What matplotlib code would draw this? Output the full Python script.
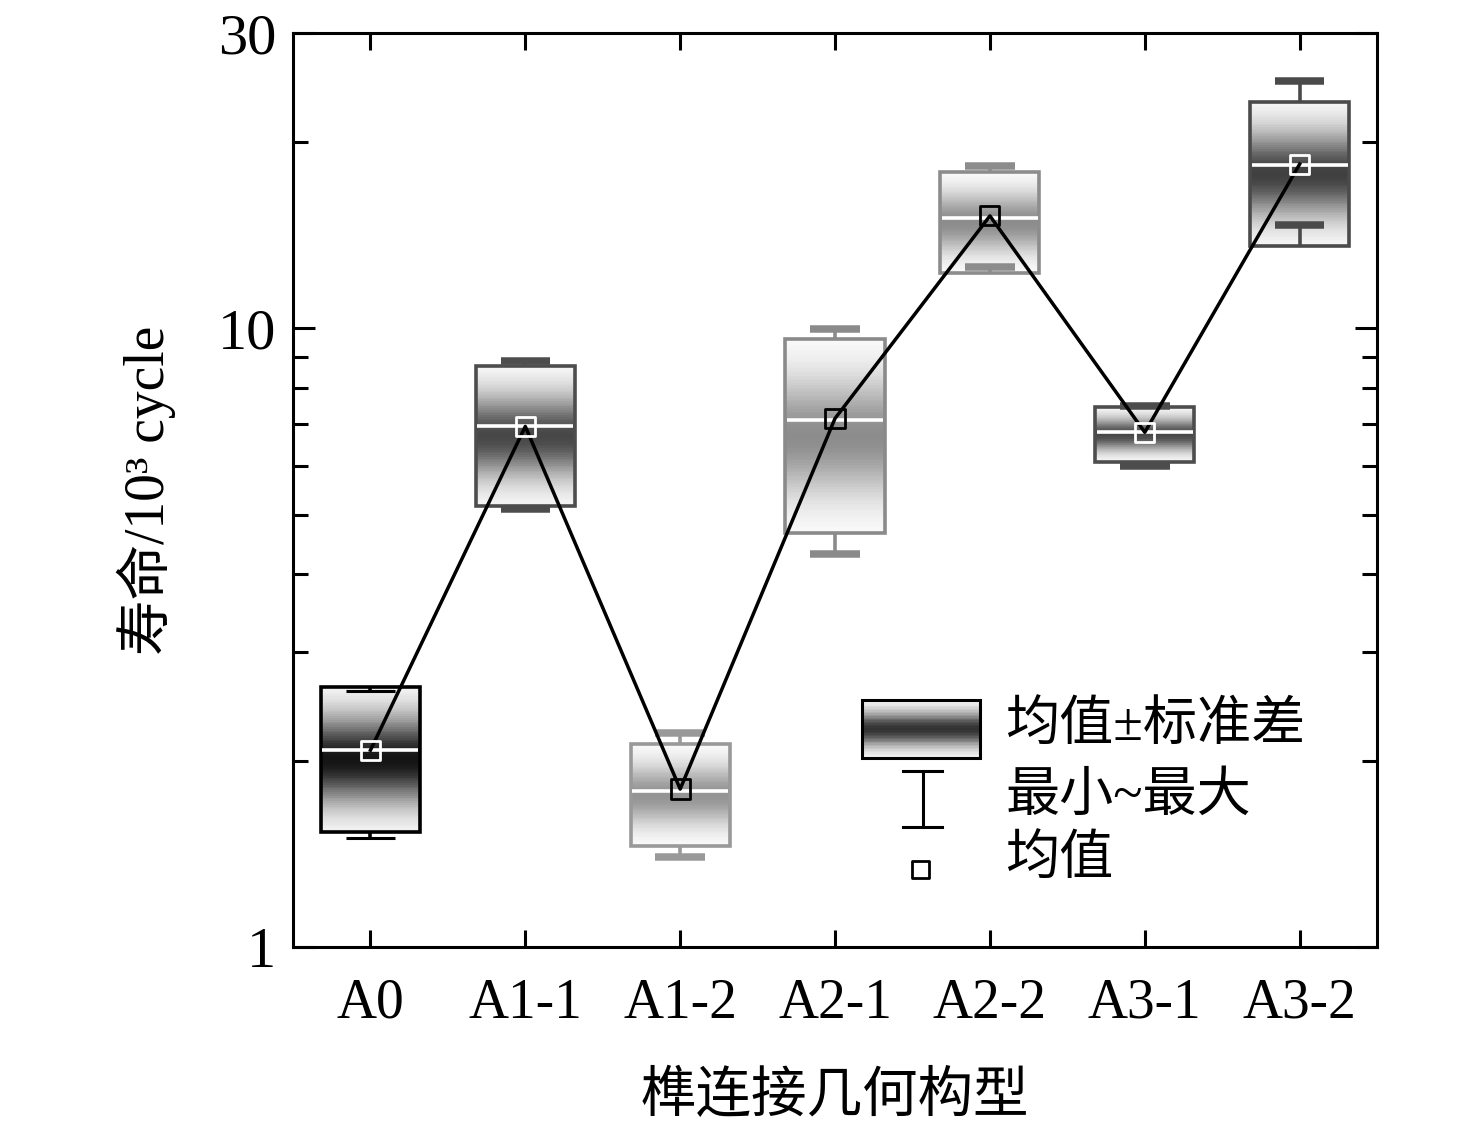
import numpy as np
import matplotlib
matplotlib.use("Agg")
import matplotlib.pyplot as plt
from matplotlib.patches import Rectangle

plt.rcParams['font.family'] = ['Liberation Serif', 'Noto Sans CJK SC']
plt.rcParams['font.size'] = 38

# data (life in 10^3 cycles)
groups = ['A0', 'A1-1', 'A1-2', 'A2-1', 'A2-2', 'A3-1', 'A3-2']
sd_hi = [2.63, 8.68, 2.13, 9.60, 17.9, 7.45, 23.2]
sd_lo = [1.535, 5.17, 1.457, 4.67, 12.3, 6.09, 13.6]
v_max = [2.59, 8.84, 2.22, 9.96, 18.3, 7.48, 25.1]
v_min = [1.50, 5.11, 1.40, 4.31, 12.55, 6.00, 14.7]
median = [2.08, 6.94, 1.79, 7.12, 15.07, 6.79, 18.36]
mean = [2.08, 6.94, 1.80, 7.15, 15.19, 6.79, 18.42]

edge_c = ['#000000', '#4d4d4d', '#999999', '#8a8a8a', '#8c8c8c', '#4d4d4d', '#4a4a4a']
depth = [0.92, 0.72, 0.42, 0.45, 0.45, 0.72, 0.75]
cap_lw = [2.2, 5.4, 5.4, 5.4, 5.4, 5.4, 5.4]
mk_c = ['white', 'white', 'black', 'black', 'black', 'white', 'white']

x = np.arange(len(groups))
w = 0.64
capw = 0.32

fig = plt.figure(figsize=(14.76, 11.23), dpi=100)
ax = fig.add_axes([0.1985, 0.1567, 0.7345, 0.8139])
ax.set_yscale('log')

def shade(d, dep):
    g = 1 - dep * np.exp(-(d / 0.58) ** 2)
    return np.clip(g, 0, 0.98)

nb = 80
for i in range(len(x)):
    e = np.geomspace(sd_lo[i], sd_hi[i], nb + 1)
    t = (np.arange(nb) + 0.5) / nb
    d = np.abs(2 * t - 1)
    g = shade(d, depth[i])
    cols = [(v, v, v) for v in g]
    ax.bar(np.full(nb, x[i]), e[1:] - e[:-1], bottom=e[:-1], width=w,
           color=cols, linewidth=0, zorder=2)
    ax.bar(x[i], sd_hi[i] - sd_lo[i], bottom=sd_lo[i], width=w, fill=False,
           edgecolor=edge_c[i], linewidth=2.6, zorder=3)
    # whiskers
    ax.vlines(x[i], sd_hi[i], v_max[i], color=edge_c[i], lw=2.6, zorder=3)
    ax.vlines(x[i], sd_lo[i], v_min[i], color=edge_c[i], lw=2.6, zorder=3)
    ax.hlines([v_max[i], v_min[i]], x[i] - capw / 2, x[i] + capw / 2,
              color=edge_c[i], lw=cap_lw[i], zorder=3)
    # median line
    ax.hlines(median[i], x[i] - w / 2 + 0.01, x[i] + w / 2 - 0.01,
              color='white', lw=2.6, zorder=4)

ax.plot(x, mean, color='black', lw=2.5, zorder=5)
ax.scatter(x, mean, marker='s', s=190, facecolors='none',
           edgecolors=mk_c, linewidths=2.0, zorder=6)

ax.set_xlim(-0.5, 6.5)
ax.set_ylim(1, 30)
ax.set_xticks(x)
ax.set_xticklabels(groups, fontsize=40)
ax.set_yticks([1, 10, 30])
ax.set_yticklabels(['1', '10', '30'], fontsize=42)
ax.set_yticks([2, 3, 4, 5, 6, 7, 8, 9, 20], minor=True)
ax.yaxis.set_minor_formatter(matplotlib.ticker.NullFormatter())
ax.tick_params(axis='x', which='major', direction='in', length=12, width=2.2,
               top=True, pad=22)
ax.tick_params(axis='y', which='major', direction='in', length=16, width=2.2,
               right=True, pad=12)
ax.tick_params(axis='y', which='minor', direction='in', length=11, width=2.2,
               right=True)
for s in ax.spines.values():
    s.set_linewidth(2.2)

ax.set_xlabel('榫连接几何构型', fontsize=40, labelpad=30)
ax.set_ylabel('寿命/10³ cycle', fontsize=40, labelpad=30)

# legend drawn by hand
lx0, lx1, ly0, ly1 = 0.525, 0.634, 0.207, 0.270
n = 40
for k in range(n):
    t = (k + 0.5) / n
    g = shade(abs(2 * t - 1), 0.8)
    ax.add_patch(Rectangle((lx0, ly0 + k * (ly1 - ly0) / n), lx1 - lx0,
                           (ly1 - ly0) / n, transform=ax.transAxes,
                           facecolor=(g, g, g), edgecolor='none', zorder=7))
ax.add_patch(Rectangle((lx0, ly0), lx1 - lx0, ly1 - ly0, transform=ax.transAxes,
                       fill=False, edgecolor='black', lw=2.2, zorder=8))
wx = 0.581
ax.plot([wx, wx], [0.1313, 0.1926], color='black', lw=2.2,
        transform=ax.transAxes, zorder=8)
ax.plot([wx - 0.018, wx + 0.018], [0.1926, 0.1926], color='black', lw=2.2,
        transform=ax.transAxes, zorder=8)
ax.plot([wx - 0.018, wx + 0.018], [0.1313, 0.1313], color='black', lw=2.2,
        transform=ax.transAxes, zorder=8)
ax.scatter([0.579], [0.0853], marker='s', s=150, facecolors='none',
           edgecolors='black', linewidths=2.0, transform=ax.transAxes, zorder=8)
ax.text(0.657, 0.2396, '均值±标准差', transform=ax.transAxes, va='center',
        fontsize=39)
ax.text(0.657, 0.164, '最小~最大', transform=ax.transAxes, va='center',
        fontsize=39)
ax.text(0.657, 0.093, '均值', transform=ax.transAxes, va='center',
        fontsize=39)

fig.savefig('out.png', dpi=100)
